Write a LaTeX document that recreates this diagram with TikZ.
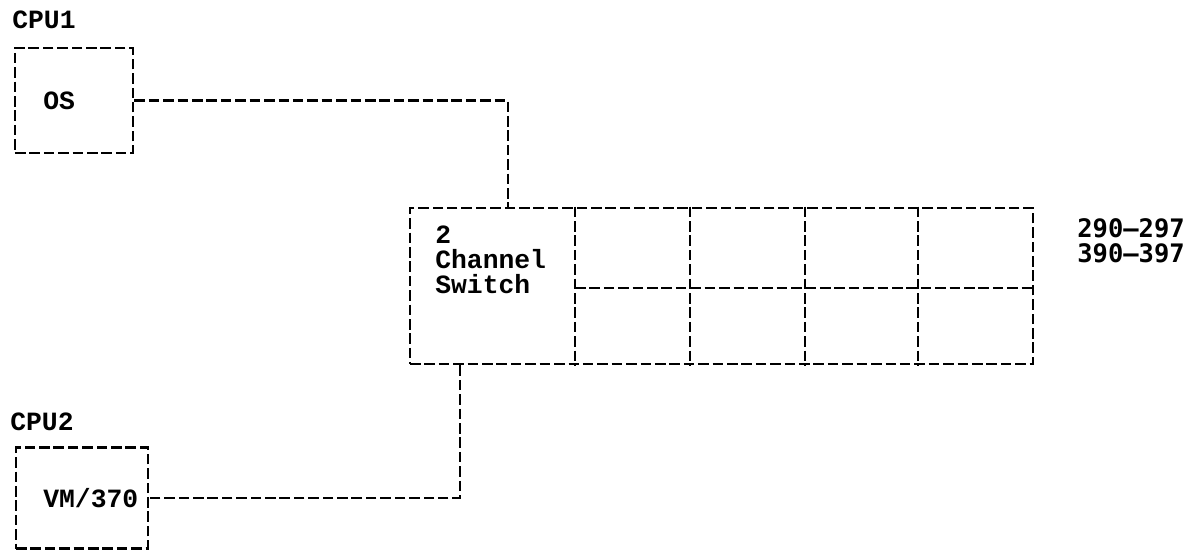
\documentclass[tikz,border=0pt]{standalone}
\usepackage{fontspec}
\newfontfamily\typefont{Liberation Mono}
\newfontfamily\numfont{DejaVu Sans Mono}
\tikzset{
  dsh/.style={line width=1.6pt,dash pattern=on 6pt off 2.2pt},
  boxnode/.style={dsh,draw,inner sep=0pt},
  txt/.style={font=\typefont\bfseries\fontsize{15}{14.2}\selectfont,anchor=west,inner sep=0pt,align=left}
}
\begin{document}
\begin{tikzpicture}
\useasboundingbox (0,0) rectangle (23.92,11.08);
% CPU 1
\node[txt] (cpua) at (0.24,10.68) {CPU1};
\node[boxnode,minimum width=2.36cm,minimum height=2.10cm] (os) at (1.48,9.07) {};
\node[txt] (ostxt) at (0.86,9.07) {OS};
% switch
\node[boxnode,minimum width=12.46cm,minimum height=3.12cm] (sw) at (14.43,5.36) {};
\foreach \x in {11.50,13.80,16.10,18.36}
  \draw[dsh] (\x,0 |- sw.north) -- (\x,0 |- sw.south);
\draw[dsh] (11.50,5.32) -- (11.50,5.32 -| sw.east);
\node[txt] (swtxt) at (8.70,5.88) {2\\Channel\\Switch};
\node[txt,font=\numfont\bfseries\fontsize{14.5}{14.2}\selectfont] (addr) at (21.54,6.27) {290–297\\390–397};
% CPU 2
\node[txt] (cpub) at (0.20,2.64) {CPU2};
\node[boxnode,minimum width=2.64cm,minimum height=2.02cm] (vm) at (1.64,1.12) {};
\node[txt] (vmtxt) at (0.86,1.12) {VM/370};
% connectors
\draw[dsh] (os.east) -| (10.16,0 |- sw.north);
\draw[dsh] (9.20,0 |- sw.south) |- (vm.east);
\end{tikzpicture}
\end{document}
